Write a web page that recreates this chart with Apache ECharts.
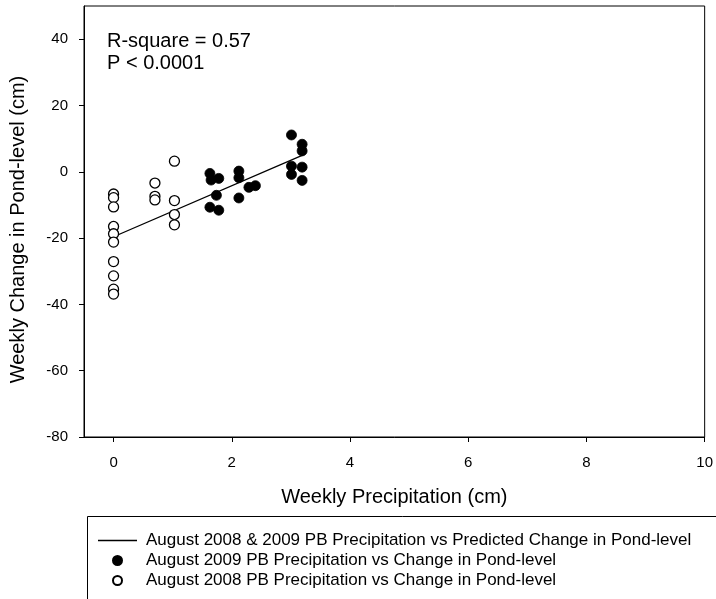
<!DOCTYPE html>
<html>
<head>
<meta charset="utf-8">
<script src="https://cdn.jsdelivr.net/npm/echarts@6/dist/echarts.min.js"></script>
<style>html,body{margin:0;padding:0;background:#fff;}#c{width:716px;height:599px;}</style>
</head>
<body>
<div id="c"></div>
<script>
// August 2008 (open circles)
const x2008 = [0, 0, 0, 0, 0, 0, 0, 0, 0, 0, 0.7, 0.7, 0.7, 1.03, 1.03, 1.03, 1.03];
const y2008 = [-6.7, -7.8, -10.6, -16.5, -18.7, -21.2, -27.1, -31.4, -35.4, -36.9, -3.4, -7.4, -8.5, 3.2, -8.7, -12.9, -16.0];
// August 2009 (filled circles)
const x2009 = [1.63, 1.65, 1.78, 1.74, 1.63, 1.78, 2.12, 2.12, 2.29, 2.4, 2.12, 3.01, 3.19, 3.19, 3.01, 3.19, 3.01, 3.19];
const y2009 = [-0.5, -2.5, -2.0, -7.1, -10.7, -11.6, 0.2, -1.8, -4.7, -4.2, -7.9, 11.1, 8.3, 6.3, 1.7, 1.4, -0.8, -2.6];
// Regression line endpoints
const lineX = [0, 3.2];
const lineY = [-19.6, 5.0];
const xTicks = [0, 2, 4, 6, 8, 10];
const yTicks = [-80, -60, -40, -20, 0, 20, 40];
const seriesNames = [
  'August 2008 & 2009 PB Precipitation vs Predicted Change in Pond-level',
  'August 2009 PB Precipitation vs Change in Pond-level',
  'August 2008 PB Precipitation vs Change in Pond-level'
];
const statText = ['R-square = 0.57', 'P < 0.0001'];

const zip = (a, b) => a.map((v, i) => [v, b[i]]);
const FONT = 'Liberation Sans, Arial, sans-serif';
const chart = echarts.init(document.getElementById('c'), null, {renderer: 'canvas'});
chart.setOption({
  backgroundColor: '#fff',
  animation: false,
  grid: {left: 84, right: 11, top: 6, bottom: 162, show: true, borderColor: '#000', borderWidth: 1, backgroundColor: 'transparent'},
  xAxis: {
    type: 'value', min: -0.5, max: 10,
    name: 'Weekly Precipitation (cm)', nameLocation: 'middle', nameGap: 50,
    nameTextStyle: {fontFamily: FONT, fontSize: 20, color: '#000'},
    axisLine: {show: true, onZero: false, lineStyle: {color: '#000', width: 1}},
    axisTick: {show: true, inside: false, length: 5, customValues: xTicks, lineStyle: {color: '#000'}},
    axisLabel: {customValues: xTicks, margin: 18, fontFamily: FONT, fontSize: 15, color: '#000'},
    splitLine: {show: false}
  },
  yAxis: {
    type: 'value', min: -80, max: 50,
    name: 'Weekly Change in Pond-level (cm)', nameLocation: 'middle', nameGap: 56, nameRotate: 90,
    nameTextStyle: {fontFamily: FONT, fontSize: 20, color: '#000', padding: [0, 16, 0, 0]},
    axisLine: {show: true, onZero: false, lineStyle: {color: '#000', width: 1}},
    axisTick: {show: true, inside: false, length: 5, customValues: yTicks, lineStyle: {color: '#000'}},
    axisLabel: {customValues: yTicks, margin: 16, fontFamily: FONT, fontSize: 15, color: '#000'},
    splitLine: {show: false}
  },
  legend: {
    orient: 'vertical', left: 98, top: 532, itemGap: 3, itemWidth: 39, itemHeight: 9,
    padding: 0, selectedMode: false,
    textStyle: {fontFamily: FONT, fontSize: 17, color: '#000', padding: [0, 0, 0, 4]},
    data: [
      {name: seriesNames[0], icon: 'path://M0,0H40V1.4H0Z', itemStyle: {color: '#000'}},
      {name: seriesNames[1]},
      {name: seriesNames[2]}
    ]
  },
  graphic: [
    {type: 'rect', left: 85, top: 514, shape: {width: 700, height: 120}, style: {fill: 'none', stroke: '#000', lineWidth: 1}, silent: true},
    {type: 'text', left: 107, top: 30, style: {text: statText.join('\n'), font: '20px ' + FONT, fill: '#000', lineHeight: 22}}
  ],
  series: [
    {name: seriesNames[0], type: 'line', data: zip(lineX, lineY), showSymbol: false, symbol: 'none',
     lineStyle: {color: '#000', width: 1.3}, itemStyle: {color: '#000'}, z: 3},
    {name: seriesNames[1], type: 'scatter', data: zip(x2009, y2009), symbol: 'circle', symbolSize: 10,
     itemStyle: {color: '#000', borderColor: '#000', borderWidth: 0.8, opacity: 1}, z: 4},
    {name: seriesNames[2], type: 'scatter', data: zip(x2008, y2008), symbol: 'circle', symbolSize: 10,
     itemStyle: {color: '#fff', borderColor: '#000', borderWidth: 1.3, opacity: 1}, z: 5}
  ]
});
</script>
</body>
</html>
